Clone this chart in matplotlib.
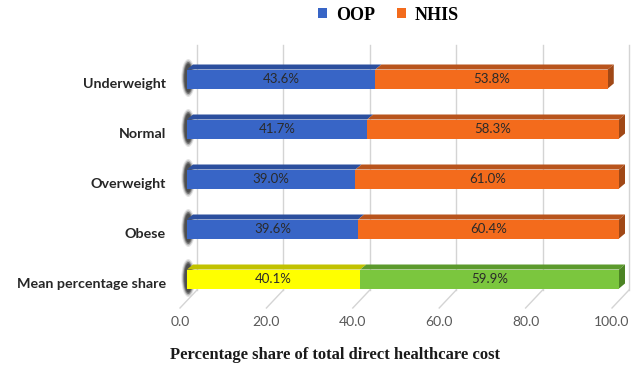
import matplotlib
matplotlib.use("Agg")
import matplotlib.pyplot as plt
from matplotlib.patches import Polygon, Ellipse, Patch
from matplotlib.transforms import ScaledTranslation

# ---- data ----
categories = ["Underweight", "Normal", "Overweight", "Obese", "Mean percentage share"]
oop_share = [43.6, 41.7, 39.0, 39.6, 40.1]
nhis_share = [53.8, 58.3, 61.0, 60.4, 59.9]
series_names = ["OOP", "NHIS"]
x_ticks = [0, 20, 40, 60, 80, 100]
x_label = "Percentage share of total direct healthcare cost"

# ---- styling ----
W, H, DPI = 635, 368, 100
front = {"OOP": "#3865C6", "NHIS": "#F36B1C"}
top = {"OOP": "#2B4F9E", "NHIS": "#B9541C"}
side = {"OOP": "#22407F", "NHIS": "#A04816"}
mean_front = {"OOP": "#FFFF00", "NHIS": "#7BC63E"}
mean_top = {"OOP": "#C2C200", "NHIS": "#5C9A2C"}
mean_side = {"OOP": "#A8A800", "NHIS": "#4C8424"}
grid_col = "#D4D4D4"

fig = plt.figure(figsize=(W / DPI, H / DPI), dpi=DPI)
px_l, px_r, px_t, px_b = 180, 612, 45, 308
ax = fig.add_axes([px_l / W, 1 - px_b / H, (px_r - px_l) / W, (px_b - px_t) / H])
ax.set_xlim(0, 100)
ax.set_ylim(-0.5, 4.76)

ux = 100.0 / (px_r - px_l)           # data units per pixel, x
uy = (4.76 + 0.5) / (px_b - px_t)   # data units per pixel, y


def shifted(dx_px, dy_px):
    return ax.transData + ScaledTranslation(dx_px / DPI, dy_px / DPI, fig.dpi_scale_trans)


ypos = list(range(len(categories)))[::-1]

# back wall gridlines and floor lines
back_dx, back_dy = 17, 18
for t in x_ticks:
    xb = t + back_dx * ux
    yb = -0.5 + back_dy * uy
    ax.plot([xb, xb], [yb, 4.76], color=grid_col, lw=1.0, zorder=0, clip_on=False)
    ax.plot([t, xb], [-0.5, yb], color=grid_col, lw=1.0, zorder=0, clip_on=False)

# 3D-looking bars
bar_tr = shifted(7, 4)
bar_h = 19 * uy
depth_x, depth_y = 6 * ux, 5 * uy
for i, y in enumerate(ypos):
    is_mean = categories[i] == "Mean percentage share"
    fc = mean_front if is_mean else front
    tc = mean_top if is_mean else top
    sc = mean_side if is_mean else side
    # soft shaded left end
    for w, h, a in [(14, 38, 0.15), (12, 35, 0.3), (10, 32, 0.6), (8, 29, 0.9)]:
        ax.add_patch(Ellipse((0.3, y + 1 * uy), w * ux, h * uy, facecolor="#4A4A4A",
                             edgecolor="none", alpha=a, transform=bar_tr,
                             zorder=2, clip_on=False))
    left = 0.0
    vals = [oop_share[i], nhis_share[i]]
    for name, v in zip(series_names, vals):
        x0, x1 = left, left + v
        yt = y + bar_h / 2
        ax.add_patch(Polygon([(x0, yt), (x1, yt), (x1 + depth_x, yt + depth_y),
                              (x0 + depth_x, yt + depth_y)], closed=True,
                             facecolor=tc[name], edgecolor="none",
                             transform=bar_tr, zorder=3, clip_on=False))
        left = x1
    # right side face
    last = series_names[-1]
    yb0 = y - bar_h / 2
    yt = y + bar_h / 2
    ax.add_patch(Polygon([(left, yb0), (left, yt), (left + depth_x, yt + depth_y),
                          (left + depth_x, yb0 + depth_y)], closed=True,
                         facecolor=sc[last], edgecolor="none",
                         transform=bar_tr, zorder=3, clip_on=False))
    left = 0.0
    for name, v in zip(series_names, vals):
        bars = ax.barh(y, v, left=left, height=bar_h, color=fc[name],
                       edgecolor="none", zorder=4)
        for p in bars:
            p.set_transform(bar_tr)
            p.set_clip_on(False)
        ax.text(left + v / 2, y, f"{v:.1f}%", transform=bar_tr, ha="center",
                va="center", fontsize=9.5, family="Lato", color="#2A2A2A", zorder=5)
        left += v

# axes
for s in ax.spines.values():
    s.set_visible(False)
ax.set_xticks(x_ticks)
ax.set_xticklabels([f"{t:.1f}" for t in x_ticks], family="Lato", fontsize=10,
                   color="#595959")
ax.set_yticks(ypos)
ax.set_yticklabels(categories, family="Lato", fontweight="bold", fontsize=10.3,
                   color="#262626")
ax.tick_params(axis="x", length=0, pad=6)
ax.tick_params(axis="y", length=0, pad=10)

fig.text(335 / W, 1 - 355 / H, x_label, ha="center", va="center",
         family="Liberation Serif", fontweight="bold", fontsize=12, color="#1A1A1A")

handles = [Patch(facecolor=front[n], edgecolor="none") for n in series_names]
fig.legend(handles, series_names, loc="center", bbox_to_anchor=(0.612, 0.959),
           ncol=2, frameon=False,
           prop={"family": "Liberation Serif", "weight": "bold", "size": 13},
           handlelength=0.5, handleheight=0.5, columnspacing=1.2,
           handletextpad=0.5)

fig.savefig("out.png", dpi=DPI)
